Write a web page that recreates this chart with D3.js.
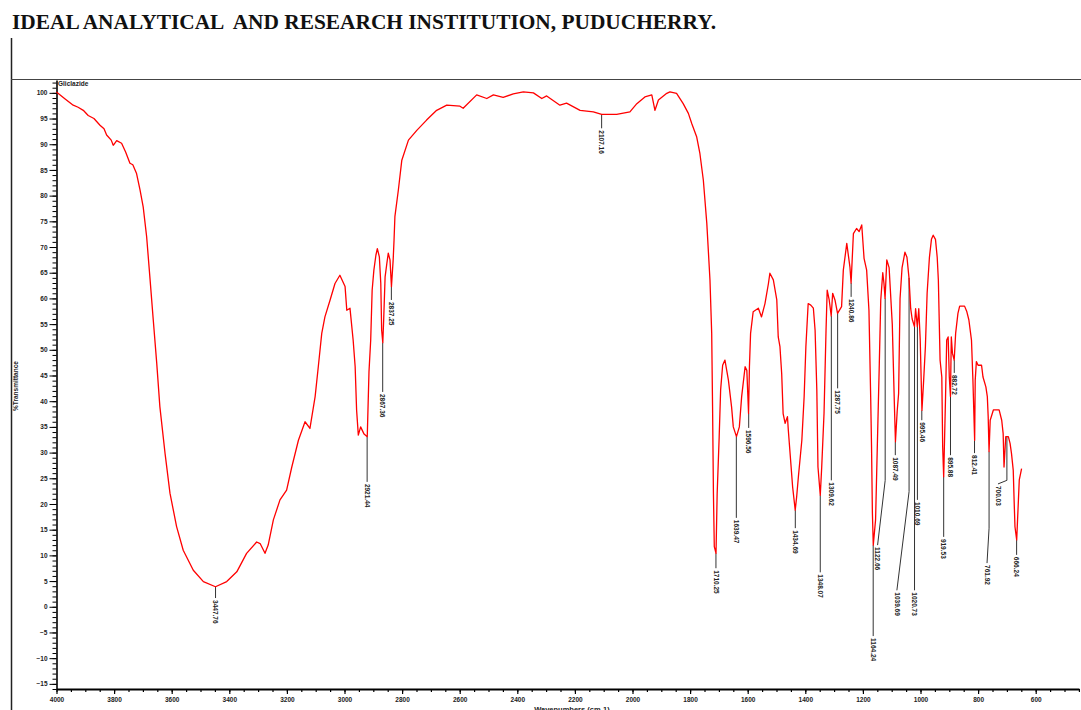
<!DOCTYPE html>
<html><head><meta charset="utf-8">
<script src="https://cdn.jsdelivr.net/npm/d3@7"></script>
<style>body{margin:0;background:#fff;} svg{display:block;} .title{white-space:pre;}</style>
</head><body><svg id="c" width="1081" height="710"></svg>
<script>
// ---- data ----
const wavenumbers = [4000,3997,3970,3942,3925,3907,3890,3870,3849,3835,3826,3810,3803,3791,3774,3760,3745,3735,3722,3710,3699,3687,3675,3664,3652,3641,3623,3606,3583,3560,3525,3490,3448,3409,3374,3340,3305,3293,3276,3265,3247,3224,3201,3183,3160,3137,3120,3102,3091,3079,3068,3050,3033,3016,2998,2992,2981,2970,2963,2958,2952,2944,2932,2921,2915,2909,2904,2898,2891,2886,2879,2874,2871,2867,2864,2859,2853,2848,2842,2837,2831,2828,2825,2813,2801,2778,2749,2715,2680,2645,2599,2588,2541,2506,2483,2449,2414,2379,2344,2315,2298,2252,2229,2182,2136,2107,2055,2009,1985,1957,1933,1922,1910,1881,1870,1847,1824,1806,1794,1777,1766,1754,1742,1731,1725,1722,1719,1716,1710,1706,1699,1694,1687,1679,1667,1656,1650,1639,1629,1621,1609,1603,1597,1594,1590,1581,1563,1552,1540,1528,1523,1511,1499,1494,1488,1482,1477,1470,1462,1459,1451,1444,1435,1430,1424,1412,1404,1398,1390,1381,1372,1366,1360,1356,1348,1343,1335,1328,1324,1317,1310,1305,1297,1288,1274,1268,1256,1245,1241,1233,1222,1213,1204,1196,1187,1179,1173,1170,1167,1164,1156,1150,1143,1138,1131,1127,1123,1117,1109,1098,1091,1087,1081,1076,1071,1064,1054,1047,1040,1034,1029,1021,1017,1011,1006,1001,995,989,983,977,969,962,956,948,942,938,932,926,923,919.5,913,909,904,900,896,893,889,883,878,870,864,847,839,832,823,818,812,810,806,800,788,783,773,768,765,762,758,747,738,727,718,713,710,704,700,695,689,684,678,675,672,666,664,660,657,649];
const transmittance = [100.2,100.0,98.8,97.6,97.2,96.6,95.6,95.0,93.7,93.0,91.8,90.8,89.8,90.7,90.2,88.5,86.3,86.0,84.3,81.1,77.8,72.0,63.6,55.8,47.4,38.9,29.8,22.1,15.6,11.0,7.1,4.9,3.9,4.9,6.8,10.4,12.6,12.3,10.4,12.0,16.9,20.8,22.7,27.2,32.4,36.0,34.7,40.9,46.7,53.2,56.4,59.7,62.9,64.5,62.3,57.7,58.1,51.9,46.7,38.3,33.4,35.0,33.6,33.1,45.7,51.9,61.6,65.5,68.4,69.7,68.1,62.9,53.8,51.4,55.8,64.2,66.8,68.8,67.5,62.3,67.5,71.3,75.9,81.1,86.9,90.8,92.7,94.7,96.6,97.6,97.4,97.0,99.6,98.9,99.6,99.1,99.8,100.2,100.0,98.9,99.4,97.6,98.0,96.6,96.3,95.8,95.8,96.3,97.9,99.2,99.6,96.6,98.6,99.9,100.2,99.9,97.9,96.0,94.0,91.4,88.2,83.0,74.6,63.6,53.2,38.9,22.1,11.7,10.4,22.1,33.1,42.2,47.0,48.0,44.1,38.9,35.0,33.1,35.0,40.9,46.7,46.0,37.6,46.7,53.2,57.4,58.1,56.4,59.0,62.9,64.9,63.6,59.7,52.5,50.6,45.4,37.6,35.7,37.0,34.4,28.5,23.3,18.8,21.4,25.3,32.4,40.9,50.6,59.0,58.7,58.1,53.8,42.2,27.2,21.7,27.2,37.6,53.8,61.6,59.7,56.6,61.0,59.7,57.1,58.4,65.5,70.7,66.1,63.0,72.6,73.6,73.0,74.3,67.8,65.5,57.7,40.9,31.1,18.2,12.0,16.9,31.1,47.4,59.7,65.0,63.0,60.0,67.5,66.0,55.0,40.0,32.1,38.0,41.5,60.0,66.0,69.0,68.0,64.0,58.0,56.0,54.5,58.0,54.5,58.0,52.0,38.2,44.1,50.6,61.0,68.0,71.5,72.3,71.5,68.0,63.6,48.0,44.7,31.1,25.3,40.9,51.9,52.5,44.7,40.9,52.5,49.3,48.0,53.2,57.1,58.5,58.5,57.4,55.8,51.9,44.1,32.4,44.1,47.7,47.0,47.0,44.7,42.8,40.9,37.0,30.2,36.3,38.3,38.3,38.3,36.3,33.7,27.2,33.1,33.1,33.1,31.8,29.8,26.6,20.8,15.6,13.0,15.6,20.8,24.7,26.9];

// peak annotations
const peakLabels = ["3447.76","2921.44","2867.36","2837.25","2107.16","1710.25","1639.47","1596.56","1434.69","1348.07","1309.62","1287.75","1240.86","1164.24","1122.66","1087.49","1039.69","1020.73","1010.69","995.46","919.53","895.88","882.72","812.41","761.92","700.03","666.24"];
const peakWn = [3447.76,2921.44,2867.36,2837.25,2107.16,1710.25,1639.47,1596.56,1434.69,1348.07,1309.62,1287.75,1240.86,1164.24,1122.66,1087.49,1039.69,1020.73,1010.69,995.46,919.53,895.88,882.72,812.41,761.92,700.03,666.24];
const peakT = [3.9,33.1,51.4,62.3,95.8,10.4,33.1,37.6,18.8,21.7,56.6,57.1,63.0,12.0,60.0,32.1,64.0,54.5,54.5,38.2,25.3,40.9,48.0,32.4,30.2,33.1,13.0];
// leader geometry (data units): bend level, label column, label level
const leaderBendT = [1.7,24.3,41.8,59.7,93.1,7.5,17.3,34.8,15.3,6.7,24.6,42.5,60.3,-5.7,24.6,29.5,22.4,3.2,20.8,36.3,13.6,29.5,45.5,29.9,15.3,24.6,10.1];
const labelColWn = [3447.76,2921.44,2867.36,2837.25,2107.16,1710.25,1639.47,1596.56,1434.69,1348.07,1309.62,1287.75,1240.86,1164.24,1149,1087.49,1082,1020.73,1010.69,995.46,919.53,895.88,882.72,812.41,769,731,666.24];
const labelT = [1.7,24.3,41.8,59.7,93.1,7.5,17.3,34.8,15.3,6.7,24.6,42.5,60.3,-5.7,12.0,29.5,3.2,3.2,20.8,36.3,13.6,29.5,45.5,29.9,8.5,23.9,10.1];

const xMajor = d3.range(4000, 599, -200);
const xMinor = d3.range(4000, 449, -50);
const yMajor = d3.range(-15, 101, 5);
const yMinor = d3.range(-16, 103, 1);

// ---- drawing ----
const svg = d3.select("#c");
const x = d3.scaleLinear().domain([4000, 450]).range([56.5, 1078.9]);
const y = d3.scaleLinear().domain([-16, 102.5]).range([689, 80]);

svg.append("text").attr("class", "title").attr("x", 12).attr("y", 29)
  .attr("font-family", "Liberation Serif, Times New Roman, serif")
  .attr("font-weight", "bold").attr("font-size", 20)
  .attr("textLength", 704).attr("lengthAdjust", "spacingAndGlyphs")
  .attr("fill", "#111")
  .text("IDEAL ANALYTICAL  AND RESEARCH INSTITUTION, PUDUCHERRY.");

// frame lines
svg.append("line").attr("x1", 11.5).attr("x2", 11.5).attr("y1", 38).attr("y2", 710)
  .attr("stroke", "#222").attr("stroke-width", 1.5);
svg.append("line").attr("x1", 11).attr("x2", 1081).attr("y1", 79.5).attr("y2", 79.5)
  .attr("stroke", "#444").attr("stroke-width", 1);

const font = "Liberation Sans, Arial, sans-serif";

// y axis
const gyMinor = svg.append("g").attr("transform", `translate(${x(4000)},0)`)
  .call(d3.axisLeft(y).tickValues(yMinor).tickSize(4).tickFormat("").tickSizeOuter(0));
gyMinor.select(".domain").remove();
gyMinor.selectAll("line").attr("stroke", "#000").attr("stroke-width", 1);
const gy = svg.append("g").attr("transform", `translate(${x(4000)},0)`)
  .call(d3.axisLeft(y).tickValues(yMajor).tickSize(7).tickSizeOuter(0).tickPadding(2));
gy.select(".domain").attr("stroke", "#000").attr("stroke-width", 1.6);
gy.selectAll("line").attr("stroke", "#000").attr("stroke-width", 1);
gy.selectAll("text").attr("font-family", font).attr("font-size", 6.5).attr("font-weight", "bold").attr("fill", "#222");

// x axis
const gxMinor = svg.append("g").attr("transform", `translate(0,${y(-16)})`)
  .call(d3.axisBottom(x).tickValues(xMinor).tickSize(3).tickFormat("").tickSizeOuter(0));
gxMinor.select(".domain").remove();
gxMinor.selectAll("line").attr("stroke", "#000").attr("stroke-width", 1.2);
const gx = svg.append("g").attr("transform", `translate(0,${y(-16)})`)
  .call(d3.axisBottom(x).tickValues(xMajor).tickSize(5).tickSizeOuter(0).tickPadding(3).tickFormat(d3.format("d")));
gx.select(".domain").attr("stroke", "#000").attr("stroke-width", 2.2);
gx.selectAll("line").attr("stroke", "#000").attr("stroke-width", 1.2);
gx.selectAll("text").attr("font-family", font).attr("font-size", 6.5).attr("font-weight", "bold").attr("fill", "#222");

svg.append("text").attr("x", 572).attr("y", 712).attr("text-anchor", "middle")
  .attr("font-family", font).attr("font-size", 7.5).attr("font-weight", "bold").attr("fill", "#222")
  .text("Wavenumbers (cm-1)");

svg.append("text").attr("transform", `translate(18,386) rotate(-90)`).attr("text-anchor", "middle")
  .attr("font-family", font).attr("font-size", 6.5).attr("font-weight", "bold").attr("fill", "#222")
  .text("%Transmittance");

svg.append("text").attr("x", 58).attr("y", 86)
  .attr("font-family", font).attr("font-size", 6.5).attr("font-weight", "bold").attr("fill", "#222")
  .text("Gliclazide");

// leaders
const peaks = peakLabels.map((t, i) => ({t, wn: peakWn[i], T: peakT[i], bend: leaderBendT[i], lwn: labelColWn[i], lT: labelT[i]}));
svg.append("g").selectAll("path").data(peaks).join("path")
  .attr("d", d => `M${x(d.wn)},${y(d.T)}L${x(d.wn)},${y(d.bend)}L${x(d.lwn)},${y(d.lT)}`)
  .attr("fill", "none").attr("stroke", "#333").attr("stroke-width", 1);
svg.append("g").selectAll("text").data(peaks).join("text")
  .attr("transform", d => `translate(${x(d.lwn)},${y(d.lT) + 2}) rotate(90)`)
  .attr("dy", "0.35em")
  .attr("font-family", font).attr("font-size", 6.5).attr("font-weight", "bold").attr("fill", "#222")
  .text(d => d.t);

// spectrum
const pts = wavenumbers.map((w, i) => [w, transmittance[i]]);
svg.append("path").datum(pts)
  .attr("d", d3.line().x(d => x(d[0])).y(d => y(d[1])))
  .attr("fill", "none").attr("stroke", "#ff0000").attr("stroke-width", 1.3).attr("stroke-linejoin", "round");
</script></body></html>
